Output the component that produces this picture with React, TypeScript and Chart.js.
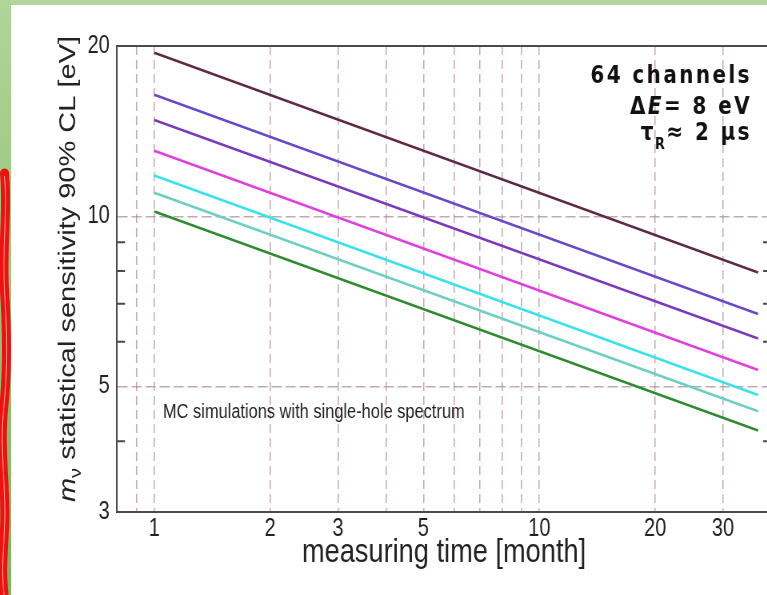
import React, { useEffect, useRef } from 'react';
import { Chart, registerables } from 'chart.js';

Chart.register(...registerables);

// ---------- data ----------
const months = [1, 37];
const curve1 = [19.45, 7.95];
const curve2 = [16.4, 6.72];
const curve3 = [14.8, 6.08];
const curve4 = [13.05, 5.35];
const curve5 = [11.8, 4.83];
const curve6 = [11.0, 4.52];
const curve7 = [10.2, 4.18];
const curves = [curve1, curve2, curve3, curve4, curve5, curve6, curve7];
const curveColors = ['#5c2a45', '#6848c8', '#7c38bd', '#e03ee0', '#36e2ec', '#6dcfc0', '#2f8a2f'];

const xTickValues = [0.8, 0.9, 1, 2, 3, 4, 5, 6, 7, 8, 9, 10, 20, 30, 40];
const xTickLabels = [1, 2, 3, 5, 10, 20, 30];
const yTickValues = [3, 4, 5, 6, 7, 8, 9, 10, 20];
const yTickLabels = [3, 5, 10, 20];
const yGridValues = [5, 10];
const yMinorTicks = [4, 6, 7, 8, 9];
const xMin = 0.8;
const xMax = 40;
const yMin = 3;
const yMax = 20;

const xTitle = 'measuring time [month]';
const noteText = 'MC simulations with single-hole spectrum';

// ---------- layout / style ----------
const SX = 0.8; // horizontal squeeze of the reference
const CW = 985;
const CH = 595;
const PLOT_LEFT = 146.25;
const PLOT_TOP = 46;
const PLOT_RIGHT = 963.9;
const PLOT_BOTTOM = 512;
const FAMILY = "'Liberation Sans', Arial, Helvetica, sans-serif";
const BOLD_FAMILY = "'DejaVu Sans', 'Liberation Sans', sans-serif";
const TEXT = '#222222';
const FRAME = '#4a4a4a';
const GRID = 'rgba(175,140,150,0.75)';

const near = (a: number, b: number) => Math.abs(a - b) < 1e-6 * Math.max(1, Math.abs(b));

type Run = { text: string; font: string; dy?: number; spacing?: number };

function drawRuns(ctx: CanvasRenderingContext2D, runs: Run[], x: number, y: number, align: 'left' | 'right' | 'center') {
  let total = 0;
  const widths: number[] = [];
  for (const r of runs) {
    ctx.font = r.font;
    (ctx as any).letterSpacing = `${r.spacing || 0}px`;
    const w = ctx.measureText(r.text).width;
    widths.push(w);
    total += w;
  }
  let cx = align === 'left' ? x : align === 'right' ? x - total : x - total / 2;
  runs.forEach((r, i) => {
    ctx.font = r.font;
    (ctx as any).letterSpacing = `${r.spacing || 0}px`;
    ctx.fillText(r.text, cx, y + (r.dy || 0));
    cx += widths[i];
  });
  (ctx as any).letterSpacing = '0px';
}

const BOLD = `bold 25px ${BOLD_FAMILY}`;
const annotationLines: Run[][] = [
  [{ text: '64 channels', font: BOLD, spacing: 3 }],
  [
    { text: 'Δ', font: BOLD, spacing: 3 },
    { text: 'E', font: `italic bold 25px ${BOLD_FAMILY}`, spacing: 3 },
    { text: '= 8 eV', font: BOLD, spacing: 3 },
  ],
  [
    { text: 'τ', font: BOLD, spacing: 2 },
    { text: 'R', font: `bold 16px ${BOLD_FAMILY}`, dy: 9, spacing: 2 },
    { text: '≈ 2 μs', font: BOLD, spacing: 3 },
  ],
];
const annotationBaselines = [83, 114, 140];

const yTitleRuns: Run[] = [
  { text: 'm', font: `italic 29px ${FAMILY}` },
  { text: 'ν', font: `20px ${FAMILY}`, dy: 7 },
  { text: ' statistical sensitivity 90% CL [eV]', font: `29px ${FAMILY}` },
];

const overlayPlugin = {
  id: 'overlay',
  afterDraw(chart: any) {
    const { ctx, chartArea: a, scales } = chart;
    const ys = scales.y;
    ctx.save();
    // top and right frame
    ctx.strokeStyle = FRAME;
    ctx.lineWidth = 2;
    ctx.beginPath();
    ctx.moveTo(a.left - 1, a.top);
    ctx.lineTo(a.right, a.top);
    ctx.lineTo(a.right, a.bottom);
    ctx.stroke();
    // inward minor ticks on both y borders
    ctx.beginPath();
    for (const v of yMinorTicks) {
      const py = ys.getPixelForValue(v);
      ctx.moveTo(a.left, py);
      ctx.lineTo(a.left + 10, py);
      ctx.moveTo(a.right, py);
      ctx.lineTo(a.right - 10, py);
    }
    ctx.stroke();

    ctx.fillStyle = TEXT;
    ctx.textBaseline = 'alphabetic';
    // note text
    drawRuns(ctx, [{ text: noteText, font: `20.5px ${FAMILY}` }], 203.75, 418, 'left');
    // annotation block
    ctx.fillStyle = '#111';
    annotationLines.forEach((line, i) => drawRuns(ctx, line, 940, annotationBaselines[i], 'right'));

    // rotated y title
    ctx.fillStyle = TEXT;
    ctx.translate(93.5, 269);
    ctx.rotate(-Math.PI / 2);
    drawRuns(ctx, yTitleRuns, 0, 0, 'center');
    ctx.restore();
  },
};

export default function App() {
  const ref = useRef<HTMLCanvasElement>(null);

  useEffect(() => {
    const canvas = ref.current;
    if (!canvas) return;
    const chart = new Chart(canvas, {
      type: 'line',
      data: {
        datasets: curves.map((c, i) => ({
          data: months.map((m, j) => ({ x: m, y: c[j] })),
          borderColor: curveColors[i],
          backgroundColor: curveColors[i],
          borderWidth: 2.6,
          pointRadius: 0,
          fill: false,
          tension: 0,
        })),
      },
      options: {
        responsive: false,
        animation: false,
        devicePixelRatio: 1,
        layout: { padding: { left: 0, top: PLOT_TOP, right: CW - PLOT_RIGHT, bottom: 0 } },
        plugins: { legend: { display: false }, tooltip: { enabled: false } },
        scales: {
          x: {
            type: 'logarithmic',
            min: xMin,
            max: xMax,
            position: 'bottom',
            afterBuildTicks: (s: any) => {
              s.ticks = xTickValues.map((v) => ({ value: v }));
            },
            afterFit: (s: any) => {
              s.height = CH - PLOT_BOTTOM;
            },
            grid: {
              drawTicks: false,
              lineWidth: 1.5,
              color: (c: any) => {
                const v = c.tick ? c.tick.value : null;
                if (v == null || near(v, xMin) || near(v, xMax)) return 'rgba(0,0,0,0)';
                return GRID;
              },
            },
            border: { display: true, color: FRAME, width: 2, dash: [9, 5] },
            ticks: {
              autoSkip: false,
              maxRotation: 0,
              minRotation: 0,
              padding: 2,
              color: TEXT,
              font: { family: FAMILY, size: 25 },
              callback: (v: any) => {
                const f = xTickLabels.find((t) => near(t, Number(v)));
                return f !== undefined ? String(f) : '';
              },
            },
            title: {
              display: true,
              text: xTitle,
              color: TEXT,
              font: { family: FAMILY, size: 34 },
              padding: { top: 0, bottom: 22 },
            },
          },
          y: {
            type: 'logarithmic',
            min: yMin,
            max: yMax,
            afterBuildTicks: (s: any) => {
              s.ticks = yTickValues.map((v) => ({ value: v }));
            },
            afterFit: (s: any) => {
              s.width = PLOT_LEFT;
            },
            grid: {
              drawTicks: false,
              lineWidth: 1.5,
              color: (c: any) => {
                const v = c.tick ? c.tick.value : null;
                if (v != null && yGridValues.some((g) => near(g, v))) return GRID;
                return 'rgba(0,0,0,0)';
              },
            },
            border: { display: true, color: FRAME, width: 2, dash: [12.5, 5] },
            ticks: {
              autoSkip: false,
              padding: 9,
              color: TEXT,
              font: { family: FAMILY, size: 25 },
              callback: (v: any) => {
                const f = yTickLabels.find((t) => near(t, Number(v)));
                return f !== undefined ? String(f) : '';
              },
            },
          },
        },
      },
      plugins: [overlayPlugin],
    } as any);
    return () => chart.destroy();
  }, []);

  return (
    <div
      style={{
        position: 'fixed',
        left: 0,
        top: 0,
        width: 767,
        height: 595,
        overflow: 'hidden',
        background: '#ffffff',
      }}
    >
      <div style={{ position: 'absolute', left: 0, top: 0, width: 767, height: 5, background: '#b3d69c' }} />
      <div
        style={{
          position: 'absolute',
          left: 0,
          top: 0,
          width: 11,
          height: 595,
          background: 'linear-gradient(#b0d597, #79b65a)',
        }}
      />
      <svg width={12} height={595} style={{ position: 'absolute', left: 0, top: 0 }} viewBox="0 0 12 595">
        <path
          d="M4.5 173 C 8 210, 2 250, 4.5 290 S 8 370, 3.5 410 S 7 490, 4.5 530 S 2 575, 4.5 600"
          stroke="#f01010"
          strokeWidth={9}
          fill="none"
          strokeLinecap="round"
        />
        <path
          d="M4.5 176 C 8 210, 2 250, 4.5 290 S 8 370, 3.5 410 S 7 490, 4.5 530 S 2 575, 4.5 600"
          stroke="#f7b8a8"
          strokeWidth={0.8}
          fill="none"
        />
      </svg>
      <div
        style={{
          position: 'absolute',
          left: 0,
          top: 0,
          width: CW,
          height: CH,
          transform: `scaleX(${SX})`,
          transformOrigin: '0 0',
        }}
      >
        <canvas ref={ref} width={CW} height={CH} style={{ display: 'block', width: CW, height: CH }} />
      </div>
    </div>
  );
}
